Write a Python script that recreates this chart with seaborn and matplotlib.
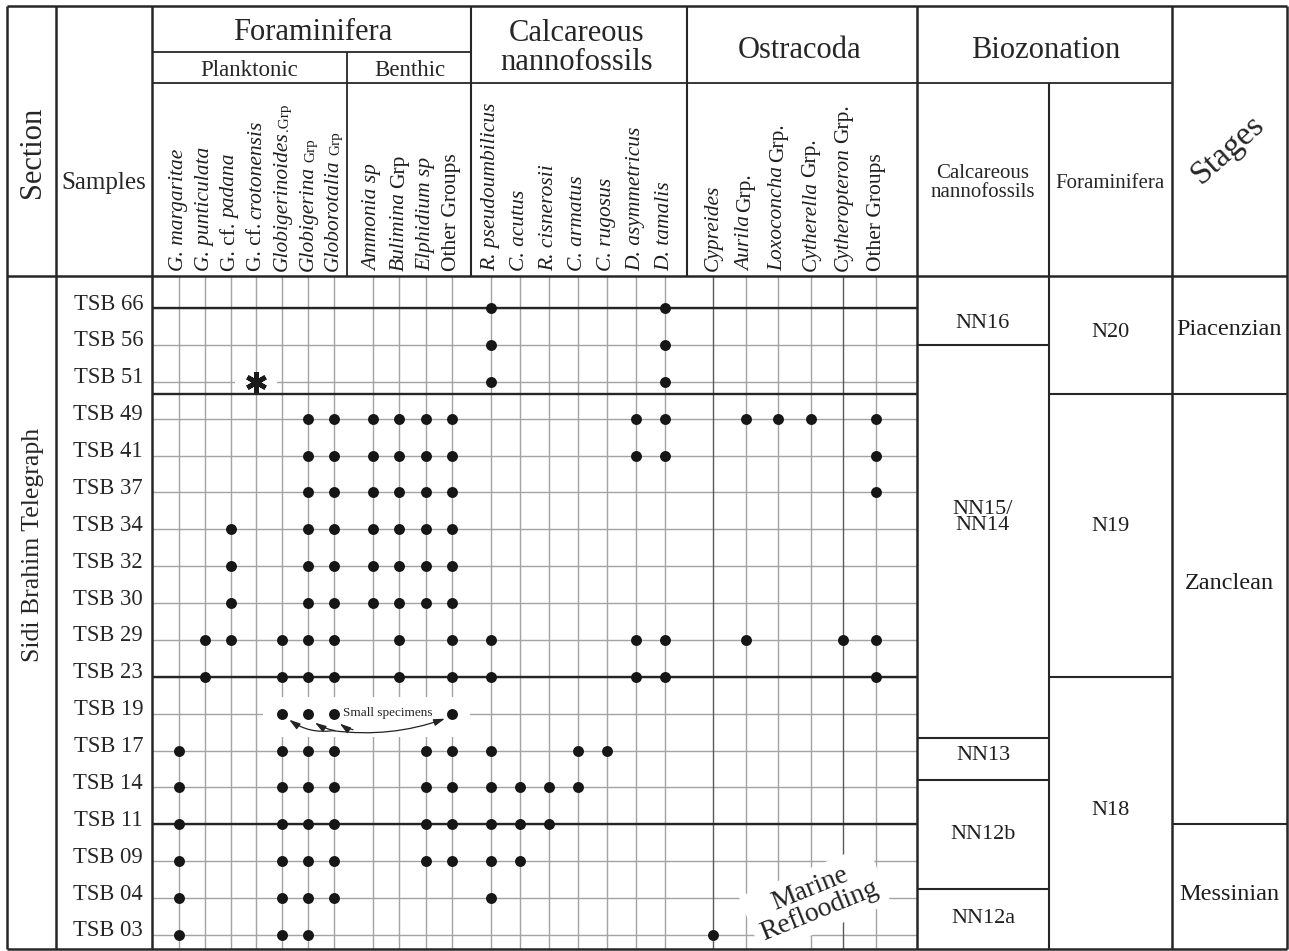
import numpy as np
import pandas as pd
import matplotlib
matplotlib.use('Agg')
import matplotlib.pyplot as plt
import seaborn as sns
from matplotlib.patches import Rectangle

# ---- data ----
samples = ['TSB 66', 'TSB 56', 'TSB 51', 'TSB 49', 'TSB 41', 'TSB 37', 'TSB 34', 'TSB 32', 'TSB 30',
           'TSB 29', 'TSB 23', 'TSB 19', 'TSB 17', 'TSB 14', 'TSB 11', 'TSB 09', 'TSB 04', 'TSB 03']

planktonic = ['G. margaritae', 'G. punticulata', 'G. cf. padana', 'G. cf. crotonensis',
              'Globigerinoides.Grp', 'Globigerina Grp', 'Globorotalia Grp']
benthic = ['Ammonia sp', 'Bulimina Grp', 'Elphidium sp', 'Other Groups']
nannofossils = ['R. pseudoumbilicus', 'C. acutus', 'R. cisnerosii', 'C. armatus', 'C. rugosus',
                'D. asymmetricus', 'D. tamalis']
ostracoda = ['Cypreides', 'Aurila Grp.', 'Loxoconcha Grp.', 'Cytherella Grp.',
             'Cytheropteron Grp.', 'Other Groups']

# presence per sample (one character per species, same order as above)
planktonic_hits = ['0000000', '0000000', '0000000', '0000011', '0000011', '0000011',
                   '0010011', '0010011', '0010011', '0110111', '0100111', '0000111',
                   '1000111', '1000111', '1000111', '1000111', '1000111', '1000110']
benthic_hits = ['0000', '0000', '0000', '1111', '1111', '1111', '1111', '1111', '1111',
                '0101', '0101', '0001', '0011', '0011', '0011', '0011', '0000', '0000']
nanno_hits = ['1000001', '1000001', '1000001', '0000011', '0000011', '0000000',
              '0000000', '0000000', '0000000', '1000011', '1000011', '0000000',
              '1001100', '1111000', '1110000', '1100000', '1000000', '0000000']
ostracoda_hits = ['000000', '000000', '000000', '011101', '000001', '000001',
                  '000000', '000000', '000000', '010011', '000001', '000000',
                  '000000', '000000', '000000', '000000', '000000', '100000']

# zones, with their limits in sample-row units
nanno_zones = ['NN16', 'NN15/\nNN14', 'NN13', 'NN12b', 'NN12a']
nanno_breaks = [1, 11.65, 12.8, 15.75]
foram_zones = ['N20', 'N19', 'N18']
foram_breaks = [2.33, 10]
stages = ['Piacenzian', 'Zanclean', 'Messinian']
stage_breaks = [2.33, 14]
thick_rows = [0, 2.33, 10, 14]

asterisk_at = ('TSB 51', 'G. cf. crotonensis')
small_specimens = ('TSB 19', ['Globigerinoides.Grp', 'Globigerina Grp', 'Globorotalia Grp', 'Other Groups'])

# ---- layout (pixels) ----
W, H = 1289, 951
LEFT, RIGHT, TOP, BOTTOM = 7, 1287, 6, 949
SECTION_R, SAMPLES_R, PLANK_R, FORAM_R, NANNO_R, OSTRA_R, BIO_MID, BIO_R = 56, 152, 347, 471, 687, 917, 1049, 1172
ROW1, ROW2, HEAD_B = 52, 83, 276
ROW0, ROW_STEP = 308, 36.88
group_cols = {'planktonic': (179, 25.8), 'benthic': (373, 26.3),
              'nanno': (491, 29.0), 'ostracoda': (713, 32.6)}

SERIF = 'Liberation Serif'
INK = '#262626'
GRID = '#a3a3a3'


def row_y(r):
    return ROW0 + r * ROW_STEP


groups = [('planktonic', planktonic, planktonic_hits),
          ('benthic', benthic, benthic_hits),
          ('nanno', nannofossils, nanno_hits),
          ('ostracoda', ostracoda, ostracoda_hits)]

col_x = {}
records = []
for group, names, hits in groups:
    x0, dx = group_cols[group]
    for j, name in enumerate(names):
        col_x[(group, name)] = x0 + j * dx
        for i, s in enumerate(samples):
            if hits[i][j] == '1':
                records.append({'sample': s, 'group': group, 'species': name,
                                'x': col_x[(group, name)], 'y': row_y(i)})
occ = pd.DataFrame(records)

sns.set_theme(style='white')
plt.rcParams['font.family'] = [SERIF, 'DejaVu Serif']

fig = plt.figure(figsize=(W / 100, H / 100), dpi=100)
ax = fig.add_axes([0, 0, 1, 1])
ax.set_xlim(0, W)
ax.set_ylim(H, 0)
ax.set_autoscale_on(False)
ax.axis('off')

# thin grid
for i, s in enumerate(samples):
    ax.hlines(row_y(i), SAMPLES_R, OSTRA_R, color=GRID, lw=1.0, zorder=1)
for (group, name), x in col_x.items():
    dark = name in ('Cypreides', 'Cytheropteron Grp.')
    ax.vlines(x, HEAD_B, BOTTOM, color='#5a5a5a' if dark else GRID, lw=1.0, zorder=2)

# heavy rows across the data block
for r in thick_rows:
    ax.hlines(row_y(r), SAMPLES_R, OSTRA_R, color=INK, lw=1.7, zorder=2.2)

# frame and header rules
ax.hlines([TOP, HEAD_B, BOTTOM], LEFT, RIGHT, color=INK, lw=1.8, zorder=7)
ax.vlines([LEFT, RIGHT, SECTION_R, SAMPLES_R, OSTRA_R, BIO_R], TOP, BOTTOM, color=INK, lw=1.8, zorder=7)
ax.vlines([FORAM_R, NANNO_R], TOP, HEAD_B, color=INK, lw=1.5, zorder=7)
ax.vlines(PLANK_R, ROW1, HEAD_B, color=INK, lw=1.3, zorder=7)
ax.vlines(BIO_MID, ROW2, BOTTOM, color=INK, lw=1.5, zorder=7)
ax.hlines(ROW1, SAMPLES_R, FORAM_R, color=INK, lw=1.3, zorder=7)
ax.hlines(ROW2, SAMPLES_R, BIO_R, color=INK, lw=1.3, zorder=7)

# zone columns
zone_cols = [(nanno_zones, nanno_breaks, OSTRA_R, BIO_MID, [0.69, 0.44, 0.43, 0.5, 0.5], 16),
             (foram_zones, foram_breaks, BIO_MID, BIO_R, [0.48, 0.47, 0.49], 16),
             (stages, stage_breaks, BIO_R, RIGHT, [0.45, 0.44, 0.56], 17.5)]
for names, breaks, x0, x1, fracs, fs in zone_cols:
    edges = [HEAD_B] + [row_y(b) for b in breaks] + [BOTTOM]
    ax.hlines(edges[1:-1], x0, x1, color=INK, lw=1.5, zorder=7)
    for k, name in enumerate(names):
        yc = edges[k] + fracs[k] * (edges[k + 1] - edges[k])
        ax.text((x0 + x1) / 2, yc, name, ha='center', va='center', fontsize=fs,
                linespacing=0.8, color='#1e1e1e', zorder=6)

# occurrence dots
sns.scatterplot(data=occ, x='x', y='y', color='#161616', s=62, linewidth=0,
                zorder=5, ax=ax, legend=False)
ax.set_xlim(0, W)
ax.set_ylim(H, 0)
ax.set_xlabel('')
ax.set_ylabel('')

# asterisk on TSB 51
ast_y = row_y(samples.index(asterisk_at[0]))
ast_x = col_x[('planktonic', asterisk_at[1])]
ax.add_patch(Rectangle((ast_x - 21, ast_y - 3), 42, 6, color='white', zorder=1.5, lw=0))
ax.plot(ast_x, ast_y, marker=(6, 2, 0), markersize=15, mew=3.4, color='#1a1a1a', zorder=6)

# small specimens note on TSB 19
sy = row_y(samples.index(small_specimens[0]))
ax.add_patch(Rectangle((263, sy - 17), 207, 40, color='white', zorder=2.5, lw=0))
ax.text(388, sy - 1, 'Small specimens', ha='center', va='center', fontsize=9.5, zorder=6)
targets = [col_x[('planktonic', n)] for n in small_specimens[1][:3]] + [col_x[('benthic', 'Other Groups')]]
arrow_kw = dict(arrowstyle='-|>,head_length=0.55,head_width=0.17', color='#222222', lw=0.9,
                shrinkA=0, shrinkB=0)
hub = (333, sy + 17)
ax.annotate('', xy=(targets[0] + 7, sy + 6), xytext=hub,
            arrowprops=dict(connectionstyle='arc3,rad=-0.2', **arrow_kw), zorder=6)
ax.annotate('', xy=(targets[1] + 7, sy + 9), xytext=(hub[0] + 2, hub[1]),
            arrowprops=dict(connectionstyle='arc3,rad=-0.1', **arrow_kw), zorder=6)
ax.annotate('', xy=(targets[2] + 6, sy + 10), xytext=(hub[0] + 20, hub[1] - 1),
            arrowprops=dict(connectionstyle='arc3,rad=-0.1', **arrow_kw), zorder=6)
ax.annotate('', xy=(targets[3] - 7, sy + 5), xytext=hub,
            arrowprops=dict(connectionstyle='arc3,rad=0.12', **arrow_kw), zorder=6)

# marine reflooding note
ax.text(815, 900, 'Marine\nReflooding', ha='center', va='center', rotation=22, fontsize=20,
        linespacing=0.95, color='#222222', zorder=6,
        bbox=dict(boxstyle='square,pad=0.25', fc='white', ec='none'))

# header texts
ax.text(32, 152, 'Section', rotation=90, ha='center', va='center', fontsize=22)
ax.text(104, 183, 'Samples', ha='center', va='center', fontsize=18)
ax.text(313, 33, 'Foraminifera', ha='center', va='center', fontsize=22)
ax.text(249, 70, 'Planktonic', ha='center', va='center', fontsize=16.5)
ax.text(410, 70, 'Benthic', ha='center', va='center', fontsize=16.5)
ax.text(577, 48, 'Calcareous\nnannofossils', ha='center', va='center', fontsize=22, linespacing=1.0)
ax.text(800, 50, 'Ostracoda', ha='center', va='center', fontsize=22)
ax.text(1046, 51, 'Biozonation', ha='center', va='center', fontsize=22)
ax.text(983, 183, 'Calcareous\nnannofossils', ha='center', va='center', fontsize=15, linespacing=1.05)
ax.text(1110, 183, 'Foraminifera', ha='center', va='center', fontsize=15)
ax.text(1228, 150, 'Stages', rotation=42, ha='center', va='center', fontsize=24)
ax.text(33, 545, 'Sidi Brahim Telegraph', rotation=90, ha='center', va='center', fontsize=18.5)

for i, s in enumerate(samples):
    ax.text(143, row_y(i) + 1.5, s, ha='right', va='baseline', fontsize=16.3)

# rotated species labels, built from upright / italic pieces
FS = 15.5


def label_pieces(name, group):
    if name == 'Other Groups':
        return [(name, 'normal', FS, 0)]
    if 'cf.' in name:
        pre, post = name.split('cf. ')
        return [(pre + 'cf.', 'normal', FS, 4), (post, 'italic', FS, 0)]
    if 'Grp' in name:
        k = name.index('Grp')
        base = name[:k].rstrip(' .')
        joiner = name[len(base):k].strip()
        small = group == 'planktonic'
        gap = 0 if joiner == '.' else 4
        return [(base, 'italic', FS, gap), (joiner + name[k:], 'normal', 11 if small else FS, 0)]
    return [(name, 'italic', FS, 0)]


renderer = fig.canvas.get_renderer()
for (group, name), x in col_x.items():
    y = 271
    for text, style, size, gap in label_pieces(name, group):
        dx = 2.5 if size < FS else 0
        t = ax.text(x + dx, y, text, rotation=90, ha='center', va='bottom',
                    fontstyle=style, fontsize=size, color='#1e1e1e')
        ext = t.get_window_extent(renderer)
        y -= ext.height + gap

fig.savefig('out.png', dpi=100, facecolor='white')
